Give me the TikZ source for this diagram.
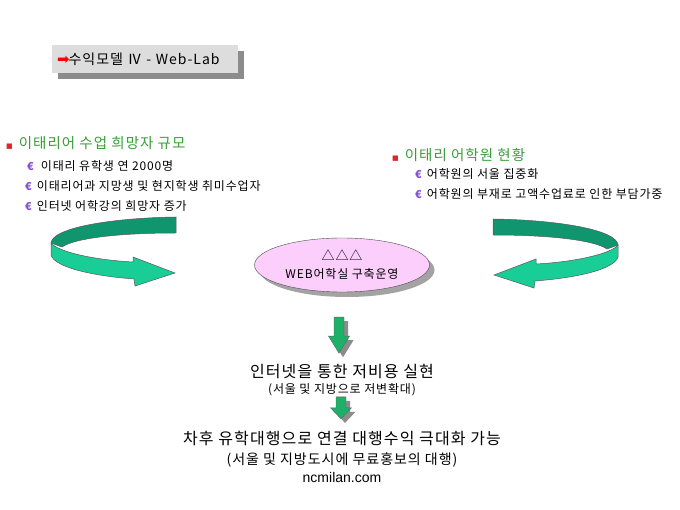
\documentclass[tikz,border=0pt]{standalone}
\usepackage{fontspec}
\setmainfont[LetterSpace=7]{Noto Sans CJK KR}
\newfontfamily\symfont{DejaVu Sans}
\newfontfamily\latinfont{Liberation Sans}
\usetikzlibrary{positioning,calc,shadows,shapes.geometric}
\definecolor{headgreen}{RGB}{56,158,56}
\definecolor{bulletred}{RGB}{220,40,40}
\definecolor{europurple}{RGB}{130,80,210}
\definecolor{ribbonlight}{RGB}{25,206,150}
\definecolor{ribbondark}{RGB}{16,150,110}
\definecolor{downgreen}{RGB}{30,175,105}
\definecolor{ovalpink}{RGB}{252,206,252}
\definecolor{titlegray}{RGB}{221,221,221}
\definecolor{shadowgray}{RGB}{140,140,140}
\newcommand{\redbullet}{\textcolor{bulletred}{\symfont\fontsize{7}{7}\selectfont ■}\hspace{6pt}}
\newcommand{\euro}{\textcolor{europurple}{\fontsize{11}{11}\selectfont\bfseries €}\hspace{5pt}}
\tikzset{
titlebox/.style={
  fill=titlegray, minimum width=186pt, minimum height=28pt,
  inner xsep=5pt, text width=176pt, align=left,
  font=\fontsize{14}{16}\selectfont,
  drop shadow={shadow xshift=6pt, shadow yshift=-6pt, fill=shadowgray, opacity=1}
  },
heading/.style={
  anchor=west, inner sep=0pt, text=headgreen, font=\fontsize{14.5}{17}\selectfont
  },
subitem/.style={
  anchor=west, inner sep=0pt, font=\fontsize{12}{14}\selectfont
  },
oval/.style={
  ellipse, draw=black!70, fill=ovalpink, inner sep=0pt,
  minimum width=175pt, minimum height=54pt, align=center,
  drop shadow={shadow xshift=5pt, shadow yshift=-5pt, fill=shadowgray, opacity=0.8}
  },
bigline/.style={inner sep=0pt, font=\fontsize{16}{19}\selectfont},
smallline/.style={inner sep=0pt, font=\fontsize{12}{14}\selectfont},
ribbonedge/.style={draw=black!65, line width=0.5pt},
pics/curlarrow/.style={code={
  \filldraw[ribbonedge, fill=ribbondark] (0,0) .. controls (-66,1) and (-124,11) .. (-125,26)
    -- (-114,30) .. controls (-101,21) and (-56,16) .. (0,16) -- cycle;
  \filldraw[ribbonedge, fill=ribbonlight] (-125,26) .. controls (-118,35) and (-81,43) .. (-43,45)
    -- (-43,40) -- (-1,56) -- (-41,69) -- (-42,62)
    .. controls (-81,59) and (-121,51) .. (-125,38) -- cycle;
  }},
pics/blockdown/.style 2 args={code={
  \fill[shadowgray, shift={(4,4)}] (-5,0) -- (5,0) -- (5,#1) -- (10.5,#1) -- (0,#2)
    -- (-10.5,#1) -- (-5,#1) -- cycle;
  \filldraw[draw=black!60, fill=downgreen] (-5,0) -- (5,0) -- (5,#1) -- (10.5,#1) -- (0,#2)
    -- (-10.5,#1) -- (-5,#1) -- cycle;
  }}
}

\begin{document}
\begin{tikzpicture}[x=1pt,y=-1pt]
\path[use as bounding box, fill=white] (0,0) rectangle (680,510);

% title

\node[titlebox] (title) at (145,59)
{\textcolor{red}{\symfont\fontsize{15}{15}\selectfont ➡}\hspace{-1pt}수익모델 Ⅳ - Web-Lab};

% left list

\node[heading] (lhead) at (6,143) {\redbullet 이태리어 수업 희망자 규모};
\node[subitem, below=23pt of lhead.west, anchor=west, xshift=21pt] (litem1)
{\euro\hspace{2pt}이태리 유학생 연 2000명};
\node[subitem, below=20pt of litem1.west, anchor=west, xshift=-2pt] (litem2)
{\euro 이태리어과 지망생 및 현지학생 취미수업자};
\node[subitem, below=20pt of litem2.west, anchor=west] (litem3)
{\euro 인터넷 어학강의 희망자 증가};

% right list

\node[heading] (rhead) at (392,155) {\redbullet 이태리 어학원 현황};
\node[subitem, below=19pt of rhead.west, anchor=west, xshift=23pt] (ritem1)
{\euro 어학원의 서울 집중화};
\node[subitem, below=20pt of ritem1.west, anchor=west] (ritem2)
{\euro 어학원의 부재로 고액수업료로 인한 부담가중};

% curled arrows

\pic at (176,217) {curlarrow};
\pic[xscale=-1] at (493,219) {curlarrow};

% centre

\node[oval] (webnode) at (342,265)
{\fontsize{13}{15}\selectfont △△△\\[6pt]
 \fontsize{12}{14}\selectfont WEB어학실 구축운영};

\pic at ($(webnode.south)+(-3,25)$) {blockdown={19}{36}};

\node[bigline, below=72pt of webnode.south] (costline) {인터넷을 통한 저비용 실현};
\node[smallline, below=4pt of costline] (costsub) {(서울 및 지방으로 저변확대)};

\pic at ($(costsub.south)+(-1,1)$) {blockdown={11}{22}};

\node[bigline, below=35pt of costsub] (finalline) {차후 유학대행으로 연결 대행수익 극대화 가능};
\node[smallline, font=\fontsize{14}{16}\selectfont, below=7pt of finalline] (finalsub)
{(서울 및 지방도시에 무료홍보의 대행)};
\node[smallline, font=\latinfont\fontsize{14}{16}\selectfont, below=4.5pt of finalsub] (site)
{ncmilan.com};

\end{tikzpicture}
\end{document}
